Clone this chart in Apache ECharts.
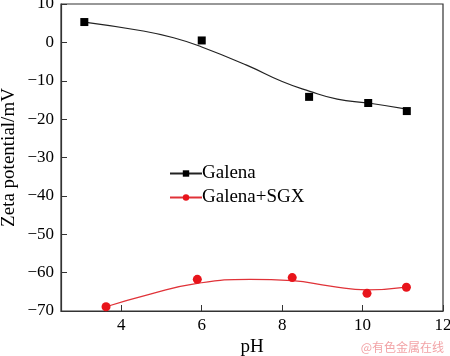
<!DOCTYPE html>
<html><head><meta charset="utf-8">
<script src="https://cdn.jsdelivr.net/npm/echarts@6/dist/echarts.min.js"></script>
<style>html,body{margin:0;padding:0;background:#fff}#c{width:450px;height:356px}</style>
</head><body><div id="c"></div>
<script>
const xTicks = [4, 6, 8, 10, 12];
const yTicks = [10, 0, -10, -20, -30, -40, -50, -60, -70];
const galenaPts = [[3.08, 5.3], [6.0, 0.5], [8.67, -14.2], [10.14, -15.8], [11.1, -17.9]];
const galenaFit = [[3.08, 5.3], [4.47, 3.1], [5.3, 1.2], [6.0, -1.2], [7.13, -6.0], [8.0, -10.2], [8.67, -12.7], [9.37, -14.8], [10.14, -15.8], [11.1, -17.4]];
const sgxPts = [[3.62, -68.9], [5.89, -61.75], [8.25, -61.3], [10.11, -65.4], [11.09, -63.8]];
const sgxFit = [[3.62, -68.9], [4.72, -65.6], [5.89, -62.8], [7.2, -61.75], [8.25, -62.1], [9.2, -63.5], [10.11, -64.5], [11.09, -63.8]];

const font = '"Liberation Serif", "Times New Roman", serif';
const chart = echarts.init(document.getElementById('c'));
const minus = v => String(v).replace('-', '\u2212');
chart.setOption({
  animation: false,
  grid: {left: 61, right: 7, top: 4, bottom: 45, show: true, borderColor: '#333', borderWidth: 1.2, containLabel: false, outerBoundsMode: 'none'},
  legend: {
    left: 164, top: 159, orient: 'vertical', itemWidth: 32, itemHeight: 8, itemGap: 5,
    data: ['Galena', 'Galena+SGX'],
    textStyle: {fontFamily: font, fontSize: 19, color: '#000', padding: [0, 0, 0, -5]}
  },
  xAxis: {
    type: 'value', min: 2.5, max: 12,
    name: 'pH', nameLocation: 'middle', nameGap: 27, nameMoveOverlap: false,
    nameTextStyle: {fontFamily: font, fontSize: 19, color: '#000'},
    axisLine: {show: true, onZero: false, lineStyle: {color: '#333', width: 1.2}},
    axisTick: {show: true, inside: true, length: 6, customValues: xTicks, lineStyle: {color: '#333'}},
    axisLabel: {customValues: xTicks, fontFamily: font, fontSize: 17, color: '#000', margin: 6},
    splitLine: {show: false}
  },
  yAxis: {
    type: 'value', min: -70, max: 10, interval: 10,
    name: 'Zeta potential/mV', nameLocation: 'middle', nameGap: 42, nameMoveOverlap: false,
    nameTextStyle: {fontFamily: font, fontSize: 19, color: '#000'},
    axisLine: {show: true, onZero: false, lineStyle: {color: '#333', width: 1.2}},
    axisTick: {show: true, inside: true, length: 6, lineStyle: {color: '#333'}},
    axisLabel: {fontFamily: font, fontSize: 17, color: '#000', margin: 7, formatter: minus},
    splitLine: {show: false}
  },
  series: [
    {name: 'Galena', type: 'line', data: galenaFit, smooth: true, symbol: 'rect', symbolSize: 8, showSymbol: false,
     lineStyle: {color: '#222', width: 1.2}, itemStyle: {color: '#000', opacity: 1}},
    {name: 'Galena+SGX', type: 'line', data: sgxFit, smooth: true, symbol: 'circle', symbolSize: 9, showSymbol: false,
     lineStyle: {color: '#e03238', width: 1.2}, itemStyle: {color: '#e8141b', opacity: 1}},
    {name: 'gp', type: 'scatter', data: galenaPts, symbol: 'rect', symbolSize: 8, itemStyle: {color: '#000', opacity: 1}, z: 5},
    {name: 'sp', type: 'scatter', data: sgxPts, symbol: 'circle', symbolSize: 9, itemStyle: {color: '#e8141b', opacity: 1}, z: 5}
  ],
  graphic: [{type: 'text', right: 6, bottom: 3, style: {text: '@有色金属在线', fontFamily: '"Noto Sans CJK SC", sans-serif', fontSize: 12, fill: '#f2a3a6'}}]
});
</script></body></html>
